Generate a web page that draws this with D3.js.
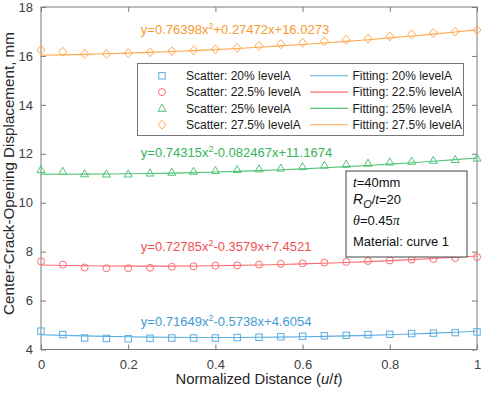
<!DOCTYPE html>
<html><head><meta charset="utf-8">
<script src="https://cdn.jsdelivr.net/npm/d3@7"></script>
<style>
body{margin:0;background:#fff;}
text{font-family:"Liberation Sans",Arial,sans-serif;}
</style></head>
<body><svg id="c" width="484" height="394"></svg>
<script>
// ---------- data ----------
const xValues = [0,0.05,0.1,0.15,0.2,0.25,0.3,0.35,0.4,0.45,0.5,0.55,0.6,0.65,0.7,0.75,0.8,0.85,0.9,0.95,1];
const levels = ["20%","22.5%","25%","27.5%"];
const scatter20  = [4.75,4.61,4.47,4.45,4.44,4.46,4.47,4.47,4.47,4.49,4.50,4.52,4.54,4.56,4.58,4.61,4.62,4.65,4.67,4.69,4.72];
const scatter225 = [7.60,7.47,7.35,7.32,7.32,7.34,7.38,7.40,7.43,7.44,7.47,7.50,7.52,7.55,7.58,7.62,7.64,7.67,7.70,7.74,7.78];
const scatter25  = [11.35,11.28,11.18,11.17,11.17,11.21,11.24,11.28,11.31,11.35,11.38,11.41,11.47,11.53,11.57,11.61,11.66,11.69,11.73,11.76,11.82];
const scatter275 = [16.24,16.17,16.08,16.08,16.11,16.15,16.19,16.23,16.27,16.33,16.41,16.48,16.54,16.60,16.66,16.71,16.80,16.88,16.94,16.99,17.06];
const fit20  = [4.605,4.579,4.555,4.536,4.519,4.507,4.498,4.492,4.491,4.492,4.498,4.507,4.519,4.535,4.555,4.578,4.605,4.635,4.669,4.707,4.748];
const fit225 = [7.452,7.436,7.424,7.415,7.410,7.408,7.410,7.416,7.425,7.438,7.455,7.476,7.499,7.527,7.558,7.593,7.632,7.674,7.720,7.769,7.822];
const fit25  = [11.167,11.165,11.167,11.172,11.181,11.193,11.210,11.230,11.253,11.281,11.312,11.347,11.385,11.428,11.474,11.524,11.577,11.634,11.695,11.760,11.828];
const fit275 = [16.027,16.043,16.062,16.086,16.113,16.144,16.179,16.217,16.259,16.306,16.356,16.410,16.467,16.529,16.594,16.663,16.736,16.813,16.893,16.978,17.066];
const equations = [
  ["y=0.71649x","2","-0.5738x+4.6054"],
  ["y=0.72785x","2","-0.3579x+7.4521"],
  ["y=0.74315x","2","-0.082467x+11.1674"],
  ["y=0.76398x","2","+0.27472x+16.0273"]
];
const xTicks = [0,0.2,0.4,0.6,0.8,1];
const yTicks = [4,6,8,10,12,14,16,18];

// ---------- layout / style ----------
const L=41,R=477,T=7,B=349.5;
const colors = ["#5aaee0","#fb6e70","#52c474","#ffa84f"];
const textColors = ["#3f9bd4","#f24f52","#36b45b","#f89a30"];
const shapes = ["square","circle","triangle","diamond"];
const eqPos = [[0.229,4.98],[0.229,8.03],[0.229,11.88],[0.229,16.9]];

const svg = d3.select("#c");
const x = d3.scaleLinear().domain([0,1]).range([L,R]);
const y = d3.scaleLinear().domain([4,18]).range([B,T]);

const scatters=[scatter20,scatter225,scatter25,scatter275];
const fits=[fit20,fit225,fit25,fit275];

// axes box
const axCol="#7a7a7a";
svg.append("rect").attr("x",L).attr("y",T).attr("width",R-L).attr("height",B-T)
  .attr("fill","none").attr("stroke",axCol).attr("stroke-width",1);

const gx = svg.append("g").attr("transform",`translate(0,${B})`)
  .call(d3.axisBottom(x).tickValues(xTicks).tickSizeInner(-5).tickSizeOuter(0).tickPadding(10).tickFormat(d3.format("~g")));
const gxt = svg.append("g").attr("transform",`translate(0,${T})`)
  .call(d3.axisTop(x).tickValues(xTicks).tickSizeInner(-5).tickSizeOuter(0).tickFormat(""));
const gy = svg.append("g").attr("transform",`translate(${L},0)`)
  .call(d3.axisLeft(y).tickValues(yTicks).tickSizeInner(-5).tickSizeOuter(0).tickPadding(8));
const gyr = svg.append("g").attr("transform",`translate(${R},0)`)
  .call(d3.axisRight(y).tickValues(yTicks).tickSizeInner(-5).tickSizeOuter(0).tickFormat(""));
[gx,gxt,gy,gyr].forEach(g=>{
  g.select(".domain").remove();
  g.selectAll("line").attr("stroke",axCol);
  g.selectAll("text").attr("fill","#404040").style("font-size","13px").style("font-family","'Liberation Sans',Arial,sans-serif");
});

// marker drawing
function marker(g,shape,cx,cy,col){
  let el;
  if(shape==="square") el=g.append("rect").attr("x",cx-3.2).attr("y",cy-3.2).attr("width",6.4).attr("height",6.4);
  else if(shape==="circle") el=g.append("circle").attr("cx",cx).attr("cy",cy).attr("r",3.5);
  else if(shape==="triangle") el=g.append("path").attr("d",`M${cx},${cy-4.2}L${cx+4},${cy+2.9}L${cx-4},${cy+2.9}Z`);
  else el=g.append("path").attr("d",`M${cx},${cy-4.5}L${cx+4},${cy}L${cx},${cy+4.5}L${cx-4},${cy}Z`);
  el.attr("fill","none").attr("stroke",col).attr("stroke-width",1);
}

const line = d3.line().x((d,i)=>x(xValues[i])).y(d=>y(d));
fits.forEach((f,k)=>{
  svg.append("path").datum(f).attr("d",line).attr("fill","none")
    .attr("stroke",colors[k]).attr("stroke-width",1.1);
});
scatters.forEach((s,k)=>{
  const g=svg.append("g");
  s.forEach((v,i)=>marker(g,shapes[k],x(xValues[i]),y(v),colors[k]));
});

// equations
equations.forEach((e,k)=>{
  const t=svg.append("text").attr("x",x(eqPos[k][0])).attr("y",y(eqPos[k][1]))
    .attr("fill",textColors[k]).style("font-size","13px");
  t.append("tspan").text(e[0]);
  t.append("tspan").attr("dy",-5).style("font-size","9px").text(e[1]);
  t.append("tspan").attr("dy",5).text(e[2]);
});

// legend
const lg=svg.append("g");
lg.append("rect").attr("x",137.5).attr("y",63.5).attr("width",326).attr("height",72)
  .attr("fill","#fff").attr("stroke","#777").attr("stroke-width",1);
levels.forEach((lv,k)=>{
  const cy=75.8+k*16.3;
  marker(lg,shapes[k],162,cy,colors[k]);
  lg.append("text").attr("x",186).attr("y",cy+4.3).attr("fill","#1a1a1a").style("font-size","12px").text(`Scatter: ${lv} levelA`);
  lg.append("line").attr("x1",310).attr("x2",348).attr("y1",cy).attr("y2",cy).attr("stroke",colors[k]).attr("stroke-width",1.1);
  lg.append("text").attr("x",352.5).attr("y",cy+4.3).attr("fill","#1a1a1a").style("font-size","12px").text(`Fitting: ${lv} levelA`);
});

// annotation box
const ab=svg.append("g");
ab.append("rect").attr("x",346).attr("y",171).attr("width",121).attr("height",86)
  .attr("fill","#fff").attr("stroke","#444").attr("stroke-width",1);
const a1=ab.append("text").attr("x",353).attr("y",187).style("font-size","13px").attr("fill","#111");
a1.append("tspan").style("font-style","italic").text("t");
a1.append("tspan").text("=40mm");
const a2=ab.append("text").attr("x",353).attr("y",204).style("font-size","13px").attr("fill","#111");
a2.append("tspan").style("font-style","italic").style("font-size","14px").text("R");
a2.append("tspan").style("font-style","italic").style("font-size","11px").attr("dy",4).text("O");
a2.append("tspan").attr("dy",-4).text("/");
a2.append("tspan").style("font-style","italic").text("t");
a2.append("tspan").text("=20");
const a3=ab.append("text").attr("x",353).attr("y",225).style("font-size","13px").attr("fill","#111");
a3.append("tspan").style("font-family","'Liberation Serif','Times New Roman',serif").style("font-style","italic").style("font-size","14px").text("θ");
a3.append("tspan").text("=0.45");
a3.append("tspan").style("font-family","'Liberation Serif','Times New Roman',serif").style("font-style","italic").style("font-size","14px").text("π");
ab.append("text").attr("x",353).attr("y",246).style("font-size","13px").attr("fill","#111").text("Material: curve 1");

// axis labels
const xl=svg.append("text").attr("x",(L+R)/2).attr("y",384).attr("text-anchor","middle")
  .style("font-size","14.8px").attr("fill","#262626");
xl.append("tspan").text("Normalized Distance (");
xl.append("tspan").style("font-style","italic").text("u");
xl.append("tspan").text("/");
xl.append("tspan").style("font-style","italic").text("t");
xl.append("tspan").text(")");
svg.append("text").attr("transform",`translate(13.5,${(32+315)/2}) rotate(-90)`).attr("text-anchor","middle")
  .style("font-size","15.2px").attr("fill","#262626").text("Center-Crack-Opening Displacement, mm");
</script></body></html>
